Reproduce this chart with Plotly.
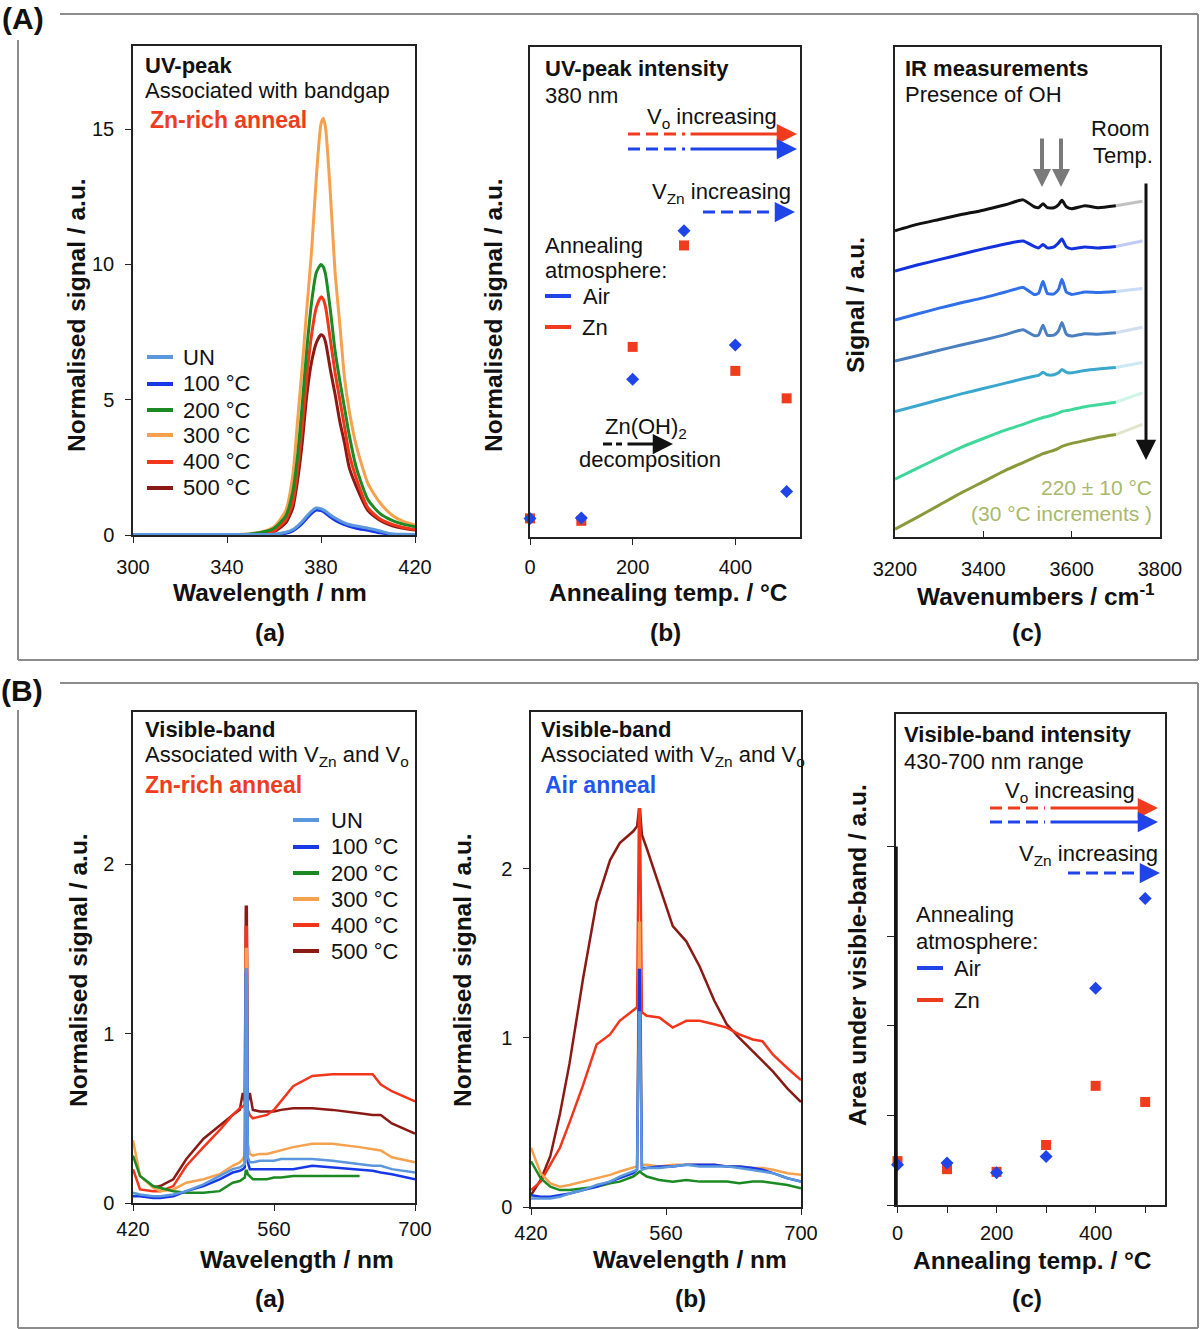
import plotly.graph_objects as go

W, H = 1200, 1329
FONT = "Liberation Sans, Arial, Helvetica, sans-serif"

# ---------------- data ----------------
temp_names = ["UN", "100 °C", "200 °C", "300 °C", "400 °C", "500 °C"]
temp_colors = ["#5b97dc", "#1738e6", "#1b8a22", "#f5a14e", "#f2361c", "#8b1a14"]

# (A)(a) UV peak, Zn-rich anneal
uv_wl = [300, 340, 345, 350, 355, 360, 365, 368, 370, 372, 374, 376, 378, 380,
         381, 382, 384, 386, 388, 390, 392, 395, 400, 405, 410, 415, 420]
uv_un = [0.02, 0.02, 0.02, 0.02, 0.02, 0.03, 0.10, 0.20, 0.33, 0.50, 0.70, 0.88, 1.00, 0.97,
         0.93, 0.88, 0.74, 0.63, 0.53, 0.45, 0.39, 0.33, 0.25, 0.15, 0.04, 0.03, 0.02]
uv_100 = [None, None, None, None, None, 0.01, 0.06, 0.15, 0.27, 0.43, 0.62, 0.80, 0.92, 0.90,
          0.86, 0.80, 0.66, 0.55, 0.46, 0.38, 0.32, 0.25, 0.17, 0.08, 0.03, 0.02, 0.01]
uv_200 = [None, None, 0.01, 0.04, 0.10, 0.25, 0.70, 1.60, 2.90, 4.80, 6.90, 8.60, 9.70, 10.0,
          9.90, 9.60, 8.30, 6.80, 5.70, 4.70, 3.70, 2.50, 1.30, 0.80, 0.55, 0.40, 0.30]
uv_300 = [None, None, 0.02, 0.05, 0.12, 0.30, 0.90, 2.20, 4.20, 6.20, 8.40, 10.5, 13.2, 15.2,
          15.4, 15.0, 12.6, 9.70, 7.80, 5.80, 4.60, 3.30, 1.90, 1.20, 0.75, 0.50, 0.37]
uv_400 = [None, None, None, None, 0.03, 0.15, 0.55, 1.20, 2.40, 4.00, 5.90, 7.40, 8.40, 8.80,
          8.70, 8.40, 7.20, 6.00, 5.00, 4.00, 3.00, 2.10, 1.00, 0.60, 0.40, 0.28, 0.20]
uv_500 = [None, None, None, None, 0.02, 0.12, 0.45, 1.00, 2.00, 3.40, 5.20, 6.40, 7.10, 7.40,
          7.35, 7.10, 6.10, 5.20, 4.20, 3.40, 2.50, 1.80, 0.90, 0.55, 0.35, 0.25, 0.18]

# (A)(b) UV-peak intensity vs annealing temperature
anneal_temp = [0, 100, 200, 300, 400, 500]
uv_int_air = [0.38, 0.39, 3.22, 6.25, 3.92, 0.93]
uv_int_zn = [0.38, 0.33, 3.88, 5.95, 3.39, 2.83]

# (A)(c) IR spectra (offset), room temp down to 220 C
ir_wn = [3200, 3250, 3300, 3350, 3400, 3450, 3490, 3515, 3525, 3535, 3545, 3560,
         3570, 3578, 3588, 3600, 3630, 3660, 3700]
ir_tail_wn = [3700, 3730, 3760]
ir_colors = ["#111111", "#1232e0", "#2f6fe8", "#4a7fc0", "#3aa8cc", "#3fd89a", "#8a9a3a"]
ir_curves = [
    [6.25, 6.38, 6.48, 6.58, 6.67, 6.78, 6.88, 6.74, 6.72, 6.80, 6.72, 6.72,
     6.78, 6.87, 6.74, 6.70, 6.76, 6.72, 6.76],
    [5.43, 5.55, 5.66, 5.77, 5.88, 5.98, 6.04, 5.93, 5.90, 5.97, 5.90, 5.92,
     6.00, 6.08, 5.92, 5.88, 5.92, 5.90, 5.93],
    [4.43, 4.55, 4.67, 4.78, 4.88, 5.00, 5.09, 4.95, 4.97, 5.22, 4.97, 4.96,
     5.05, 5.26, 5.00, 4.95, 5.00, 4.99, 5.01],
    [3.59, 3.70, 3.81, 3.92, 4.02, 4.13, 4.23, 4.11, 4.12, 4.32, 4.12, 4.12,
     4.20, 4.38, 4.14, 4.10, 4.15, 4.14, 4.17],
    [2.56, 2.68, 2.80, 2.92, 3.03, 3.14, 3.23, 3.28, 3.30, 3.36, 3.31, 3.31,
     3.35, 3.42, 3.36, 3.35, 3.40, 3.43, 3.46],
    [1.18, 1.40, 1.62, 1.83, 2.01, 2.18, 2.30, 2.38, 2.41, 2.44, 2.46, 2.50,
     2.53, 2.56, 2.58, 2.60, 2.66, 2.70, 2.75],
    [0.16, 0.40, 0.65, 0.90, 1.13, 1.36, 1.52, 1.62, 1.66, 1.70, 1.73, 1.77,
     1.81, 1.85, 1.88, 1.91, 1.97, 2.03, 2.09],
]
ir_tails = [
    [6.76, 6.80, 6.85], [5.93, 5.98, 6.04], [5.01, 5.04, 5.07], [4.17, 4.22, 4.28],
    [3.46, 3.51, 3.56], [2.75, 2.85, 2.94], [2.09, 2.20, 2.30],
]

# (B)(a) visible band, Zn-rich anneal
vis_wl_a = [420, 427, 440, 447, 460, 473, 490, 506, 519, 526, 529, 531, 532, 533, 534,
            536, 539, 546, 553, 560, 567, 579, 598, 618, 645, 658, 666, 677, 700]
vis_a = [
    [0.06, 0.05, 0.04, 0.04, 0.05, 0.07, 0.11, 0.16, 0.20, 0.21, 0.22, 0.23, 1.38, 1.38, 0.27,
     0.24, 0.24, 0.25, 0.25, 0.25, 0.26, 0.26, 0.26, 0.25, 0.23, 0.22, 0.22, 0.20, 0.18],
    [0.04, 0.04, 0.03, 0.03, 0.04, 0.07, 0.10, 0.14, 0.18, 0.19, 0.20, 0.21, 1.36, 1.36, 0.24,
     0.20, 0.20, 0.20, 0.20, 0.20, 0.20, 0.20, 0.22, 0.21, 0.20, 0.19, 0.18, 0.17, 0.14],
    [0.28, 0.16, 0.10, 0.09, 0.07, 0.06, 0.06, 0.07, 0.12, 0.13, 0.14, 0.15, 0.19, 0.19, 0.17,
     0.16, 0.14, 0.14, 0.14, 0.15, 0.15, 0.16, 0.16, 0.16, 0.16, None, None, None, None],
    [0.37, 0.16, 0.09, 0.07, 0.08, 0.12, 0.14, 0.17, 0.22, 0.24, 0.26, 0.28, 1.50, 1.50, 0.35,
     0.29, 0.28, 0.29, 0.29, 0.30, 0.31, 0.33, 0.35, 0.35, 0.33, 0.32, 0.31, 0.27, 0.24],
    [0.20, 0.08, 0.07, 0.07, 0.10, 0.22, 0.33, 0.43, 0.52, 0.56, 0.57, 0.58, 1.63, 1.63, 0.55,
     0.52, 0.50, 0.51, 0.52, 0.55, 0.60, 0.69, 0.75, 0.76, 0.76, 0.76, 0.70, 0.66, 0.60],
    [None, None, 0.09, 0.10, 0.14, 0.26, 0.38, 0.46, 0.52, 0.55, 0.65, 0.60, 1.75, 1.75, 0.60,
     0.65, 0.55, 0.54, 0.54, 0.54, 0.55, 0.56, 0.56, 0.55, 0.53, 0.52, 0.52, 0.47, 0.41],
]

# (B)(b) visible band, air anneal
vis_wl_b = [420, 430, 440, 450, 460, 474, 488, 502, 512, 526, 530, 532, 533, 535, 540,
            553, 567, 581, 595, 610, 623, 636, 650, 660, 671, 686, 700]
vis_b = [
    [0.05, 0.05, 0.05, 0.06, 0.08, 0.10, 0.13, 0.15, 0.18, 0.21, 0.22, 1.15, 1.15, 0.22, 0.23,
     0.23, 0.24, 0.25, 0.24, 0.24, 0.24, 0.23, 0.22, 0.21, 0.20, 0.17, 0.15],
    [0.07, 0.06, 0.06, 0.07, 0.08, 0.10, 0.12, 0.15, 0.17, 0.20, 0.22, 1.40, 1.40, 0.23, 0.23,
     0.24, 0.24, 0.25, 0.25, 0.25, 0.24, 0.24, 0.23, 0.22, 0.20, 0.17, 0.15],
    [0.27, 0.17, 0.12, 0.10, 0.10, 0.11, 0.12, 0.14, 0.15, 0.18, 0.20, 0.21, 0.21, 0.20, 0.18,
     0.16, 0.15, 0.16, 0.15, 0.15, 0.15, 0.14, 0.15, 0.15, 0.14, 0.13, 0.11],
    [0.35, 0.20, 0.14, 0.12, 0.13, 0.15, 0.17, 0.19, 0.21, 0.23, 0.24, 1.68, 1.68, 0.25, 0.25,
     0.24, 0.25, 0.25, 0.25, 0.25, 0.24, 0.24, 0.23, 0.23, 0.22, 0.20, 0.19],
    [0.10, 0.15, 0.25, 0.35, 0.50, 0.72, 0.96, 1.02, 1.10, 1.16, 1.18, 2.35, 2.35, 1.15, 1.13,
     1.12, 1.06, 1.10, 1.10, 1.08, 1.06, 1.02, 0.99, 0.98, 0.90, 0.82, 0.75],
    [0.07, 0.16, 0.30, 0.55, 0.85, 1.35, 1.80, 2.05, 2.15, 2.22, 2.25, 2.35, 2.35, 2.20, 2.12,
     1.90, 1.66, 1.57, 1.42, 1.22, 1.08, 1.00, 0.92, 0.86, 0.80, 0.70, 0.62],
]

# (B)(c) visible-band area vs annealing temperature
vis_int_air = [0.45, 0.47, 0.36, 0.54, 2.42, 3.42]
vis_int_zn = [0.49, 0.40, 0.37, 0.67, 1.33, 1.15]


# ---------------- helpers ----------------
def fx(p):
    return p / W


def fy(p):
    return 1 - p / H


annotations = []
shapes = []


def text(px, py, s, size=22, color="#111", anchor="left", angle=0):
    annotations.append(dict(x=fx(px), y=fy(py), xref="paper", yref="paper", text=s,
                            showarrow=False, xanchor=anchor, yanchor="middle",
                            textangle=angle, font=dict(size=size, color=color, family=FONT)))


def seg(x0, y0, x1, y1, color, width=3, dash="solid"):
    shapes.append(dict(type="line", xref="paper", yref="paper", x0=fx(x0), y0=fy(y0),
                       x1=fx(x1), y1=fy(y1), line=dict(color=color, width=width, dash=dash)))


def arrow(x_start, y_start, x_tip, y_tip, color, width=3, size=1.35):
    annotations.append(dict(x=fx(x_tip), y=fy(y_tip), xref="paper", yref="paper", text="",
                            showarrow=True, ax=x_start - x_tip, ay=y_start - y_tip,
                            arrowhead=2, arrowsize=size, arrowwidth=width, arrowcolor=color))


def trend_arrow(x0, x_dash_end, x_tip, y, color):
    seg(x0, y, x_dash_end, y, color, 3, "12px,6px")
    arrow(x_dash_end + 4, y, x_tip, y, color)


def axis(**kw):
    base = dict(showline=True, linecolor="#222", linewidth=1.5, mirror=True, showgrid=False,
                zeroline=False, ticks="outside", ticklen=6, tickcolor="#222", automargin=False,
                tickfont=dict(size=20, color="#111", family=FONT))
    base.update(kw)
    return base


TITLE = 24.5

fig = go.Figure()

# (A)(a)
uv_series = [uv_un, uv_100, uv_200, uv_300, uv_400, uv_500]
for i in reversed(range(6)):
    fig.add_trace(go.Scatter(x=uv_wl, y=uv_series[i], mode="lines", xaxis="x", yaxis="y",
                             line=dict(color=temp_colors[i], width=3, shape="spline", smoothing=0.6),
                             showlegend=False))

# (A)(b)
fig.add_trace(go.Scatter(x=anneal_temp, y=uv_int_zn, mode="markers", xaxis="x2", yaxis="y2",
                         marker=dict(symbol="square", size=10, color="#f03c1e"), showlegend=False,
                         cliponaxis=False))
fig.add_trace(go.Scatter(x=anneal_temp, y=uv_int_air, mode="markers", xaxis="x2", yaxis="y2",
                         marker=dict(symbol="diamond", size=10, color="#1f45e8"), showlegend=False,
                         cliponaxis=False))

# (A)(c)
for ys, tail, col in zip(ir_curves, ir_tails, ir_colors):
    fig.add_trace(go.Scatter(x=ir_tail_wn, y=tail, mode="lines", xaxis="x3", yaxis="y3",
                             line=dict(color=col, width=3), opacity=0.25, showlegend=False))
    fig.add_trace(go.Scatter(x=ir_wn, y=ys, mode="lines", xaxis="x3", yaxis="y3",
                             line=dict(color=col, width=3, shape="spline", smoothing=0.5),
                             showlegend=False))

# (B)(a) and (B)(b)
for series, wl, xa, ya in [(vis_a, vis_wl_a, "x4", "y4"), (vis_b, vis_wl_b, "x5", "y5")]:
    for i in reversed(range(6)):
        fig.add_trace(go.Scatter(x=wl, y=series[i], mode="lines", xaxis=xa, yaxis=ya,
                                 line=dict(color=temp_colors[i], width=2.5), showlegend=False))

# (B)(c)
fig.add_trace(go.Scatter(x=anneal_temp, y=vis_int_zn, mode="markers", xaxis="x6", yaxis="y6",
                         marker=dict(symbol="square", size=10, color="#f03c1e"), showlegend=False,
                         cliponaxis=False))
fig.add_trace(go.Scatter(x=anneal_temp, y=vis_int_air, mode="markers", xaxis="x6", yaxis="y6",
                         marker=dict(symbol="diamond", size=10, color="#1f45e8"), showlegend=False,
                         cliponaxis=False))

# ---------------- text and decorations ----------------
red, blue = "#f03c1e", "#1f45e8"

# outer frames and panel letters
gray = "#8c8c8c"
seg(60, 14, 1198, 14, gray, 2)
seg(1198, 14, 1198, 660, gray, 2)
seg(18, 660, 1198, 660, gray, 2)
seg(18, 40, 18, 660, gray, 2)
seg(60, 683, 1198, 683, gray, 2)
seg(1198, 683, 1198, 1328, gray, 2)
seg(18, 1328, 1198, 1328, gray, 2)
seg(18, 710, 18, 1328, gray, 2)
text(23, 18, "<b>(A)</b>", 30, anchor="center")
text(22, 690, "<b>(B)</b>", 30, anchor="center")

# (A)(a)
text(143, 65, "<b>UV-peak</b>")
text(143, 91, "Associated with bandgap")
text(148, 120, "<b>Zn-rich anneal</b>", 23, red)
for i, yy in enumerate([357, 384, 410, 435, 462, 488]):
    seg(147, yy, 173, yy, temp_colors[i], 4)
    text(181, yy, temp_names[i])
text(76, 315, "<b>Normalised signal / a.u.</b>", TITLE, angle=-90, anchor="center")
text(270, 592, "<b>Wavelength / nm</b>", TITLE, anchor="center")
text(270, 632, "<b>(a)</b>", TITLE, anchor="center")

# (A)(b)
text(543, 68, "<b>UV-peak intensity</b>")
text(543, 95, "380 nm")
text(645, 118, "V<sub>o</sub> increasing")
trend_arrow(628, 685, 797, 134, red)
trend_arrow(628, 685, 797, 149, blue)
text(650, 193, "V<sub>Zn</sub> increasing")
trend_arrow(703, 770, 795, 212, blue)
text(543, 245, "Annealing")
text(543, 271, "atmosphere:")
seg(545, 296, 571, 296, blue, 4)
text(581, 296, "Air")
seg(545, 327, 571, 327, red, 4)
text(580, 327, "Zn")
text(603, 428, "Zn(OH)<sub>2</sub>")
seg(603, 444, 622, 444, "#111", 3, "9px,4px")
arrow(626, 444, 673, 444, "#111")
text(577, 460, "decomposition")
text(493, 315, "<b>Normalised signal / a.u.</b>", TITLE, angle=-90, anchor="center")
text(668, 592, "<b>Annealing temp. / °C</b>", TITLE, anchor="center")
text(665, 632, "<b>(b)</b>", TITLE, anchor="center")

# (A)(c)
text(903, 68, "<b>IR measurements</b>")
text(903, 94, "Presence of OH")
text(1152, 128, "Room", anchor="right")
text(1155, 155, "Temp.", anchor="right")
arrow(1042, 137, 1042, 187, "#7a7a7a", 4, 0.9)
arrow(1061, 137, 1061, 187, "#7a7a7a", 4, 0.9)
arrow(1146, 182, 1146, 460, "#111", 3)
text(1154, 487, "220 ± 10 °C", 21, "#a9b86a", anchor="right")
text(1154, 513, "(30 °C increments )", 21, "#a9b86a", anchor="right")
text(855, 305, "<b>Signal / a.u.</b>", TITLE, angle=-90, anchor="center")
text(1036, 594, "<b>Wavenumbers / cm<sup>-1</sup></b>", TITLE, anchor="center")
text(1027, 632, "<b>(c)</b>", TITLE, anchor="center")

# (B)(a)
text(143, 729, "<b>Visible-band</b>")
text(143, 756, "Associated with V<sub>Zn</sub> and V<sub>o</sub>")
text(143, 785, "<b>Zn-rich anneal</b>", 23, red)
for i, yy in enumerate([820, 847, 873, 899, 925, 951]):
    seg(293, yy, 319, yy, temp_colors[i], 4)
    text(329, yy, temp_names[i])
text(78, 970, "<b>Normalised signal / a.u.</b>", TITLE, angle=-90, anchor="center")
text(297, 1259, "<b>Wavelength / nm</b>", TITLE, anchor="center")
text(270, 1298, "<b>(a)</b>", TITLE, anchor="center")

# (B)(b)
text(539, 729, "<b>Visible-band</b>")
text(539, 756, "Associated with V<sub>Zn</sub> and V<sub>o</sub>")
text(543, 785, "<b>Air anneal</b>", 23, "#2255ee")
text(462, 970, "<b>Normalised signal / a.u.</b>", TITLE, angle=-90, anchor="center")
text(690, 1259, "<b>Wavelength / nm</b>", TITLE, anchor="center")
text(690, 1298, "<b>(b)</b>", TITLE, anchor="center")

# (B)(c)
text(902, 734, "<b>Visible-band intensity</b>")
text(902, 761, "430-700 nm range")
text(1003, 792, "V<sub>o</sub> increasing")
trend_arrow(990, 1045, 1158, 808, red)
trend_arrow(990, 1045, 1158, 822, blue)
text(1017, 855, "V<sub>Zn</sub> increasing")
trend_arrow(1068, 1135, 1160, 873, blue)
text(914, 914, "Annealing")
text(914, 941, "atmosphere:")
seg(917, 968, 943, 968, blue, 4)
text(952, 968, "Air")
seg(917, 1000, 943, 1000, red, 4)
text(952, 1000, "Zn")
shapes.append(dict(type="line", xref="x6 domain", yref="y6", x0=0, x1=0, y0=0, y1=4,
                   line=dict(color="#111", width=3.5)))
text(857, 955, "<b>Area under visible-band / a.u.</b>", TITLE, angle=-90, anchor="center")
text(1032, 1260, "<b>Annealing temp. / °C</b>", TITLE, anchor="center")
text(1027, 1298, "<b>(c)</b>", TITLE, anchor="center")

fig.update_layout(
    width=W, height=H, margin=dict(l=0, r=0, t=0, b=0, pad=0, autoexpand=False),
    paper_bgcolor="white", plot_bgcolor="white",
    font=dict(family=FONT, color="#111"),
    xaxis=axis(domain=[fx(133), fx(415)], range=[300, 420], tickvals=[300, 340, 380, 420],
               anchor="y", ticklabelstandoff=7),
    yaxis=axis(domain=[fy(535), fy(46)], range=[0, 18.07], tickvals=[0, 5, 10, 15],
               anchor="x", ticklabelstandoff=7),
    xaxis2=axis(domain=[fx(530), fx(800)], range=[0, 526], tickvals=[0, 200, 400],
                anchor="y2", ticklabelstandoff=5),
    yaxis2=axis(domain=[fy(537), fy(47)], range=[0, 10], showticklabels=False, ticks="",
                anchor="x2"),
    xaxis3=axis(domain=[fx(895), fx(1160)], range=[3200, 3800],
                tickvals=[3200, 3400, 3600, 3800], ticks="inside", anchor="y3",
                ticklabelstandoff=13),
    yaxis3=axis(domain=[fy(537), fy(47)], range=[0, 10], showticklabels=False, ticks="",
                anchor="x3"),
    xaxis4=axis(domain=[fx(133), fx(415)], range=[420, 700], tickvals=[420, 560, 700],
                anchor="y4", ticklabelstandoff=1),
    yaxis4=axis(domain=[fy(1203), fy(712)], range=[0, 2.9], tickvals=[0, 1, 2],
                anchor="x4", ticklabelstandoff=7),
    xaxis5=axis(domain=[fx(531), fx(801)], range=[420, 700], tickvals=[420, 560, 700],
                anchor="y5", ticklabelstandoff=1),
    yaxis5=axis(domain=[fy(1207), fy(712)], range=[0, 2.925], tickvals=[0, 1, 2],
                anchor="x5", ticklabelstandoff=7),
    xaxis6=axis(domain=[fx(896), fx(1165)], range=[-3, 540],
                tickvals=[0, 100, 200, 300, 400, 500], ticktext=["0", "", "200", "", "400", ""],
                anchor="y6", ticklabelstandoff=3),
    yaxis6=axis(domain=[fy(1205), fy(714)], range=[0, 5.48], tickvals=[0, 1, 2, 3, 4],
                showticklabels=False, ticklen=7, anchor="x6"),
    annotations=annotations,
    shapes=shapes,
)

# remove the default page margin so the figure sits at the window's top-left corner
fig.write_html("out.html", config={"displayModeBar": False},
               post_script="document.body.style.margin='0';document.body.style.overflow='hidden';")
